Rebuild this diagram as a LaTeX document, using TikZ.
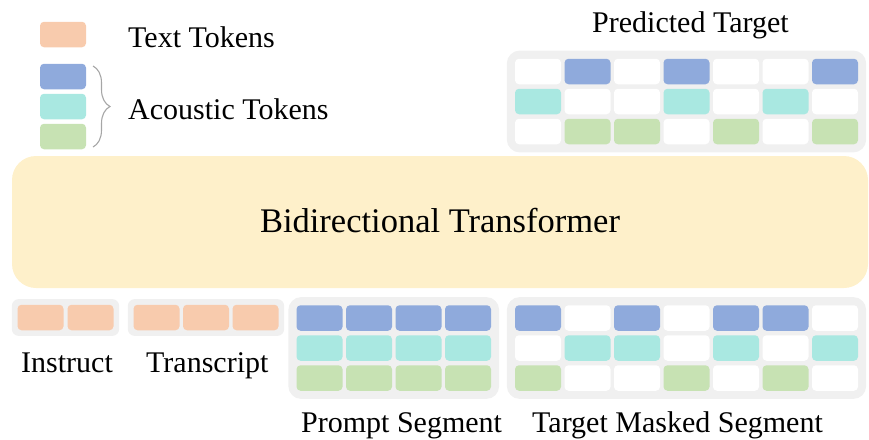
\documentclass[tikz,border=0pt]{standalone}
\usepackage{fontspec}
\setmainfont{Liberation Serif}
\usetikzlibrary{fit,backgrounds,decorations.pathreplacing}

\definecolor{txttok}{HTML}{F8CBAD}
\definecolor{acblue}{HTML}{8FAADC}
\definecolor{accyan}{HTML}{A9E8E1}
\definecolor{acgreen}{HTML}{C7E2B3}
\definecolor{panelgray}{HTML}{F0F0F0}
\definecolor{bidir}{HTML}{FEF0CA}
\definecolor{bracegray}{HTML}{A6A6A6}

\tikzset{
  cell/.style={rounded corners=4pt, minimum width=46pt, minimum height=25.5pt,
               inner sep=0pt, draw=none, fill=white},
  tt/.style={cell, fill=txttok},
  bl/.style={cell, fill=acblue},
  cy/.style={cell, fill=accyan},
  gr/.style={cell, fill=acgreen},
  wh/.style={cell, fill=white},
  panel/.style={fill=panelgray, draw=none, rounded corners=13pt, inner sep=8pt},
  smallpanel/.style={fill=panelgray, draw=none, rounded corners=7pt, inner sep=5.5pt},
  label/.style={font=\fontsize{30}{36}\selectfont, inner sep=0pt, anchor=base west},
}

\begin{document}
\begin{tikzpicture}[x=1pt, y=-1pt]
  \useasboundingbox (0,0) rectangle (869,439);

  % legend
  \node[tt] (leg-t) at (63,34.5) {};
  \node[bl] (leg-b) at (63,76.5) {};
  \node[cy] (leg-c) at (63,106.5) {};
  \node[gr] (leg-g) at (63,136.5) {};
  \node[label] (leg-tt) at (128,47) {Text Tokens};
  \node[label] (leg-ac) at (128,119) {Acoustic Tokens};
  \coordinate (br-top) at (93,66);
  \coordinate (br-bot) at (93,147);
  \draw[bracegray, line width=1.1pt, decorate,
        decoration={brace, amplitude=17pt, aspect=0.5}] (br-top) -- (br-bot);

  % predicted target grid
  \foreach \c/\ra/\rb/\rc [count=\i] in {1/wh/cy/wh, 2/bl/wh/gr, 3/wh/wh/gr, 4/bl/cy/wh,
                                          5/wh/wh/gr, 6/wh/cy/wh, 7/bl/wh/gr} {
    \node[\ra] (p-1-\c) at ({538+49.5*(\c-1)},71.5) {};
    \node[\rb] (p-2-\c) at ({538+49.5*(\c-1)},101.5) {};
    \node[\rc] (p-3-\c) at ({538+49.5*(\c-1)},131.5) {};
  }
  \node[label] (pred-lbl) at (592,32) {Predicted Target};

  % transformer
  \node[fill=bidir, draw=none, rounded corners=24pt, minimum width=856pt,
        minimum height=132pt, inner sep=0pt] (bt) at (440,222) {};
  \node[font=\fontsize{34.5}{40}\selectfont, inner sep=0pt, anchor=base] (bt-lbl)
        at (440,232) {Bidirectional Transformer};

  % instruct tokens
  \foreach \c in {1,2} {
    \node[tt] (ins-\c) at ({40.5+50*(\c-1)},317.5) {};
  }
  \node[label] (ins-lbl) at (21,372) {Instruct};

  % transcript tokens
  \foreach \c in {1,2,3} {
    \node[tt] (trs-\c) at ({156.5+49.5*(\c-1)},317.5) {};
  }
  \node[label] (trs-lbl) at (146,372) {Transcript};

  % prompt segment
  \foreach \c in {1,2,3,4} {
    \node[bl] (pr-1-\c) at ({319.5+49.5*(\c-1)},318) {};
    \node[cy] (pr-2-\c) at ({319.5+49.5*(\c-1)},348) {};
    \node[gr] (pr-3-\c) at ({319.5+49.5*(\c-1)},378) {};
  }
  \node[label] (pr-lbl) at (301,432) {Prompt Segment};

  % target masked segment
  \foreach \c/\ra/\rb/\rc in {1/bl/wh/gr, 2/wh/cy/wh, 3/bl/cy/wh, 4/wh/wh/gr,
                              5/bl/cy/wh, 6/bl/wh/gr, 7/wh/cy/wh} {
    \node[\ra] (m-1-\c) at ({538+49.5*(\c-1)},318) {};
    \node[\rb] (m-2-\c) at ({538+49.5*(\c-1)},348) {};
    \node[\rc] (m-3-\c) at ({538+49.5*(\c-1)},378) {};
  }
  \node[label] (m-lbl) at (532,432) {Target Masked Segment};

  % grey trays behind the token groups
  \begin{scope}[on background layer]
    \node[panel, fit=(p-1-1)(p-3-7)] (pred-panel) {};
    \node[panel, fit=(pr-1-1)(pr-3-4)] (pr-panel) {};
    \node[panel, fit=(m-1-1)(m-3-7)] (m-panel) {};
    \node[smallpanel, fit=(ins-1)(ins-2)] (ins-panel) {};
    \node[smallpanel, fit=(trs-1)(trs-3)] (trs-panel) {};
  \end{scope}
\end{tikzpicture}
\end{document}
